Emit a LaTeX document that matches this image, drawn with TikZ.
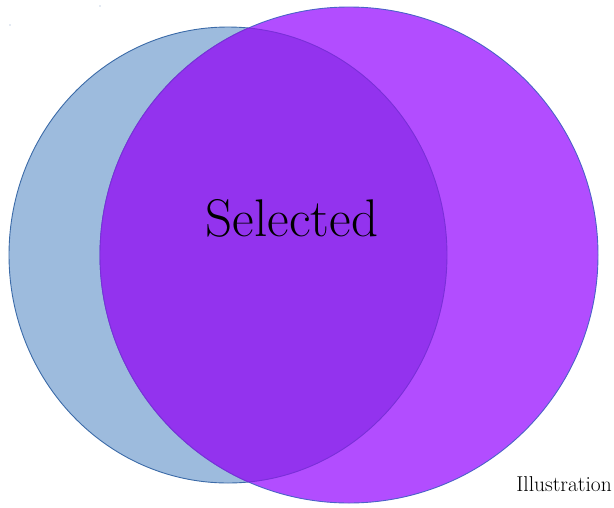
\documentclass[tikz,border=0pt]{standalone}
\begin{document}
\begin{tikzpicture}[x=1pt,y=-1pt,
  bluecircle/.style={fill=blueF,draw=blueD,line width=0.9pt},
  purplecircle/.style={fill=purpleF,draw=purpleD,line width=0.9pt},
  dotmark/.style={fill=blueD!60,inner sep=0pt,minimum size=1.2pt,circle}]
\definecolor{blueF}{HTML}{9DBBDD}
\definecolor{blueD}{HTML}{3C6BA8}
\definecolor{purpleF}{HTML}{B24DFF}
\definecolor{purpleD}{HTML}{4C62C8}
\definecolor{interF}{HTML}{9333EE}
\definecolor{interD}{HTML}{7A2FD8}
\useasboundingbox (0,0) rectangle (614,507);
\coordinate (bc) at (228,255);
\coordinate (pc) at (349,255);
\path[bluecircle] (bc) ellipse[x radius=219,y radius=228];
\path[purplecircle] (pc) ellipse[x radius=249,y radius=248];
\begin{scope}
  \clip (bc) ellipse[x radius=219,y radius=228];
  \fill[interF] (pc) ellipse[x radius=249,y radius=248];
  \draw[interD,line width=0.9pt] (pc) ellipse[x radius=249,y radius=248];
\end{scope}
\begin{scope}
  \clip (pc) ellipse[x radius=249,y radius=248];
  \draw[interD,line width=0.9pt] (bc) ellipse[x radius=219,y radius=228];
\end{scope}
\node[dotmark] (d1) at (10,25) {};
\node[dotmark] (d2) at (100,6) {};
\node[dotmark] (d3) at (600,490) {};
\node[font=\fontsize{53}{58}\selectfont,inner sep=0pt] (sel) at (292,218) {Selected};
\node[font=\fontsize{21.5}{24}\selectfont,anchor=base east,inner sep=0pt] (ill) at (612,491) {Illustration};
\end{tikzpicture}
\end{document}
